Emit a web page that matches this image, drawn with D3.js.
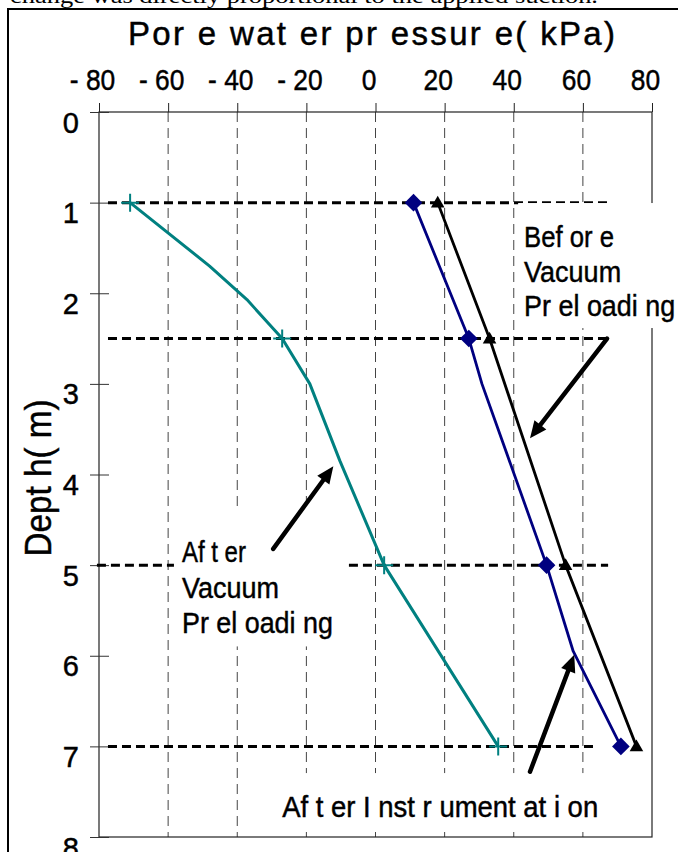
<!DOCTYPE html>
<html>
<head>
<meta charset="utf-8">
<script src="https://cdn.jsdelivr.net/npm/d3@7"></script>
<style>
  html, body { margin: 0; padding: 0; background: #fff; }
  svg { display: block; }
  text { font-family: "Liberation Sans", Arial, sans-serif; fill: #000; }
  text.heavy { stroke: #000; stroke-width: 0.45px; }
</style>
</head>
<body>
<svg id="chart" width="678" height="852"></svg>
<script>
// Gauge depths (m) and pore water pressure readings (kPa)
const gaugeDepths = [1, 2.5, 5, 7];
const beforeVacuum = [18, 33, 55, 75.5];
const afterInstrumentation = [11, 27, 49.5, 71];
const afterVacuum = [-71, -27, 2.5, 35.5];

// Full profile traces (gauge readings plus intermediate profile points)
const afterInstrumentationDepths = [1, 2.5, 3.0, 5, 5.95, 7];
const afterInstrumentationProfile = [11, 27, 30.8, 49.5, 57.2, 71];
const afterVacuumDepths = [1, 1.7, 2.07, 2.5, 3.0, 3.85, 5, 7];
const afterVacuumProfile = [-71, -48, -37.2, -27, -19, -10.3, 2.5, 35.5];

// Axis ticks
const xTicks = [-80, -60, -40, -20, 0, 20, 40, 60, 80];
const xTickLabels = ["- 80", "- 60", "- 40", "- 20", "0", "20", "40", "60", "80"];
const yTicks = [0, 1, 2, 3, 4, 5, 6, 7, 8];

// Gauge level reference lines: depth and extent in kPa
const levelDepths = [1, 2.5, 5, 7];
const levelFrom = [-77.4, -77.4, -80.6, -77.4];
const levelTo = [67.3, 67.3, 67.3, 63.5];

const svg = d3.select("#chart");
const x = d3.scaleLinear().domain([-80, 80]).range([99, 652]);
const y = d3.scaleLinear().domain([0, 8]).range([112, 837]);

// Narrow a text element horizontally by a factor, keeping its anchor
function narrow(sel, k) {
  sel.each(function () {
    const w = this.getComputedTextLength();
    d3.select(this).attr("textLength", w * k).attr("lengthAdjust", "spacingAndGlyphs");
  });
}

// Page fragment above the figure
svg.append("text")
  .attr("x", 10).attr("y", 2.5)
  .style("font-family", "'Liberation Serif', 'Times New Roman', serif")
  .attr("font-size", 21)
  .attr("textLength", 588).attr("lengthAdjust", "spacingAndGlyphs")
  .text("change was directly proportional to the applied suction.");

// Figure frame
svg.append("path")
  .attr("d", "M8,860V9H678")
  .attr("fill", "none").attr("stroke", "#000").attr("stroke-width", 2);

// Vertical grid
svg.append("g").selectAll("line")
  .data(xTicks.filter(v => v > -80 && v < 80))
  .join("line")
  .attr("x1", d => x(d)).attr("x2", d => x(d))
  .attr("y1", y(0)).attr("y2", y(8))
  .attr("stroke", "#444").attr("stroke-width", 1)
  .attr("stroke-dasharray", "10,6");

// Plot frame
svg.append("rect")
  .attr("x", x(-80)).attr("y", y(0))
  .attr("width", x(80) - x(-80)).attr("height", y(8) - y(0))
  .attr("fill", "none").attr("stroke", "#222").attr("stroke-width", 1.2);

// Top axis
const xAxis = svg.append("g")
  .attr("transform", `translate(0,${y(0)})`)
  .call(d3.axisTop(x).tickValues(xTicks).tickSize(9)
    .tickFormat((d, i) => xTickLabels[i]));
xAxis.select(".domain").remove();
xAxis.selectAll(".tick line").attr("stroke", "#222");
xAxis.selectAll(".tick text")
  .attr("class", "heavy")
  .attr("x", -7).attr("y", -22).attr("dy", 0)
  .attr("font-size", 30).attr("font-family", null)
  .attr("text-anchor", "middle")
  .call(narrow, 0.88);

// Left axis
const yAxis = svg.append("g")
  .attr("transform", `translate(${x(-80)},0)`)
  .call(d3.axisLeft(y).tickValues(yTicks).tickSize(9).tickFormat(d3.format("d")));
yAxis.select(".domain").remove();
yAxis.selectAll(".tick line").attr("x1", 10).attr("stroke", "#333");
yAxis.selectAll(".tick text")
  .attr("class", "heavy")
  .attr("x", -20).attr("y", 20).attr("dy", 0)
  .attr("font-size", 29).attr("font-family", null)
  .attr("text-anchor", "end");

// Axis titles
svg.append("text")
  .attr("class", "heavy")
  .attr("x", 128).attr("y", 45)
  .attr("font-size", 33)
  .attr("textLength", 487).attr("lengthAdjust", "spacing")
  .text("Por e wat er  pr essur e( kPa)");

svg.append("text")
  .attr("class", "heavy")
  .attr("transform", "translate(51,478) rotate(-90)")
  .attr("text-anchor", "middle")
  .attr("font-size", 36)
  .attr("textLength", 157).attr("lengthAdjust", "spacingAndGlyphs")
  .text("Dept h( m)");

// Gauge level reference lines
svg.append("g").selectAll("line")
  .data(levelDepths)
  .join("line")
  .attr("x1", (d, i) => x(levelFrom[i])).attr("x2", (d, i) => x(levelTo[i]))
  .attr("y1", d => y(d)).attr("y2", d => y(d))
  .attr("stroke", "#000").attr("stroke-width", 3)
  .attr("stroke-dasharray", "9,5");

// Annotation labels on white boxes (anchor in kPa / m, line pitch in px)
const notes = [
  { lines: ["Bef or e", "Vacuum", "Pr el oadi ng"], v: 43.0, d: 1.49, lead: 34.5,
    widths: [90, 97, 151], pad: [17, 6, 6, 6] },
  { lines: ["Af t er", "Vacuum", "Pr el oadi ng"], v: -56.0, d: 4.97, lead: 35.5,
    widths: [64, 97, 151], pad: [28, 13, 7, 8] },
  { lines: ["Af t er  I nst r ument at i on"], v: -27.0, d: 7.78, lead: 0,
    widths: [316], pad: [17, 4, 4, 12] }
];
notes.forEach(n => {
  const g = svg.append("g");
  const bg = g.append("rect").attr("fill", "#fff");
  const texts = n.lines.map((s, i) => g.append("text")
    .attr("class", "heavy")
    .attr("x", x(n.v)).attr("y", y(n.d) + i * n.lead)
    .attr("font-size", 30)
    .attr("textLength", n.widths[i]).attr("lengthAdjust", "spacingAndGlyphs")
    .text(s));
  const boxes = texts.map(t => t.node().getBBox());
  const x0 = d3.min(boxes, b => b.x), y0 = d3.min(boxes, b => b.y);
  const x1 = d3.max(boxes, b => b.x + b.width), y1 = d3.max(boxes, b => b.y + b.height);
  bg.attr("x", x0 - n.pad[3]).attr("y", y0 - n.pad[0])
    .attr("width", x1 - x0 + n.pad[1] + n.pad[3])
    .attr("height", y1 - y0 + n.pad[0] + n.pad[2]);
});

// Profile traces
const trace = d3.line().x(p => x(p[0])).y(p => y(p[1]));
svg.append("path")
  .datum(afterVacuumProfile.map((v, i) => [v, afterVacuumDepths[i]]))
  .attr("d", trace).attr("fill", "none")
  .attr("stroke", "#008080").attr("stroke-width", 3).attr("stroke-linejoin", "round");
svg.append("path")
  .datum(afterInstrumentationProfile.map((v, i) => [v, afterInstrumentationDepths[i]]))
  .attr("d", trace).attr("fill", "none")
  .attr("stroke", "#000080").attr("stroke-width", 2.8).attr("stroke-linejoin", "round");
svg.append("path")
  .datum(beforeVacuum.map((v, i) => [v, gaugeDepths[i]]))
  .attr("d", trace).attr("fill", "none")
  .attr("stroke", "#000").attr("stroke-width", 2.8).attr("stroke-linejoin", "round");

// Gauge markers
svg.append("g").selectAll("path")
  .data(afterVacuum.map((v, i) => [v, gaugeDepths[i]]))
  .join("path")
  .attr("transform", p => `translate(${x(p[0])},${y(p[1])})`)
  .attr("d", "M-9,0H9M0,-9V9")
  .attr("stroke", "#008080").attr("stroke-width", 2).attr("fill", "none");

svg.append("g").selectAll("path")
  .data(afterInstrumentation.map((v, i) => [v, gaugeDepths[i]]))
  .join("path")
  .attr("transform", p => `translate(${x(p[0])},${y(p[1])}) rotate(45)`)
  .attr("d", d3.symbol(d3.symbolSquare, 155))
  .attr("fill", "#000080");

svg.append("g").selectAll("path")
  .data(beforeVacuum.map((v, i) => [v, gaugeDepths[i]]))
  .join("path")
  .attr("transform", p => `translate(${x(p[0])},${y(p[1]) + 1})`)
  .attr("d", d3.symbol(d3.symbolTriangle, 80))
  .attr("fill", "#000");

// Annotation arrows (tail and tip in kPa / m)
const arrows = [
  { from: [67.0, 2.5], to: [44.7, 3.6] },
  { from: [-29.6, 4.82], to: [-12.2, 3.91] },
  { from: [44.7, 7.28], to: [57.5, 5.99] }
];
arrows.forEach(a => {
  const x0 = x(a.from[0]), y0 = y(a.from[1]);
  const x1 = x(a.to[0]), y1 = y(a.to[1]);
  const len = Math.hypot(x1 - x0, y1 - y0);
  const ux = (x1 - x0) / len, uy = (y1 - y0) / len;
  const headLen = 17, headHalf = 7.5;
  const bx = x1 - ux * headLen, by = y1 - uy * headLen;
  svg.append("line")
    .attr("x1", x0).attr("y1", y0)
    .attr("x2", bx + ux * 2).attr("y2", by + uy * 2)
    .attr("stroke", "#000").attr("stroke-width", 4.5).attr("stroke-linecap", "round");
  const head = d3.path();
  head.moveTo(x1, y1);
  head.lineTo(bx - uy * headHalf, by + ux * headHalf);
  head.lineTo(bx + uy * headHalf, by - ux * headHalf);
  head.closePath();
  svg.append("path").attr("d", head.toString()).attr("fill", "#000");
});
</script>
</body>
</html>
